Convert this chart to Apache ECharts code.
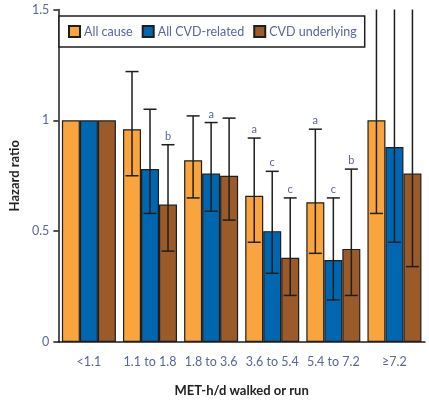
<!DOCTYPE html>
<html>
<head>
<meta charset="utf-8">
<script src="https://cdn.jsdelivr.net/npm/echarts@6/dist/echarts.min.js"></script>
<style>
  html, body { margin: 0; padding: 0; background: #fff; }
  #main { width: 429px; height: 402px; }
</style>
</head>
<body>
<div id="main"></div>
<script>
var categories = ['<1.1', '1.1 to 1.8', '1.8 to 3.6', '3.6 to 5.4', '5.4 to 7.2', '≥7.2'];

// hazard ratios
var allCause = [1, 0.96, 0.82, 0.66, 0.63, 1.0];
var allCauseLow = [null, 0.75, 0.65, 0.45, 0.40, 0.58];
var allCauseHigh = [null, 1.22, 1.02, 0.92, 0.96, 1.9];
var allCauseSig = ['', '', '', 'a', 'a', ''];

var cvdRelated = [1, 0.78, 0.76, 0.50, 0.37, 0.88];
var cvdRelatedLow = [null, 0.58, 0.59, 0.31, 0.19, 0.45];
var cvdRelatedHigh = [null, 1.05, 0.99, 0.77, 0.65, 1.9];
var cvdRelatedSig = ['', '', 'a', 'c', 'c', ''];

var cvdUnderlying = [1, 0.62, 0.75, 0.38, 0.42, 0.76];
var cvdUnderlyingLow = [null, 0.41, 0.55, 0.21, 0.21, 0.34];
var cvdUnderlyingHigh = [null, 0.89, 1.01, 0.65, 0.78, 1.9];
var cvdUnderlyingSig = ['', 'b', '', 'c', 'b', ''];

var yMax = 1.5;
var barW = 18;
var textColor = '#5a659c';
var font = 'Lato, "Open Sans", sans-serif';

// error bar + letter drawn with a custom series, offset to its bar
function errorSeries(name, low, high, sig, offset) {
  var data = [];
  for (var i = 0; i < categories.length; i++) {
    if (low[i] == null) continue;
    data.push([i, low[i], high[i], sig[i]]);
  }
  return {
    name: name,
    type: 'custom',
    z: 10,
    clip: false,
    data: data,
    renderItem: function (params, api) {
      var idx = api.value(0);
      var lo = api.coord([idx, api.value(1)]);
      var hiVal = api.value(2);
      var over = hiVal > yMax;
      var hi = api.coord([idx, over ? yMax : hiVal]);
      var x = lo[0] + offset;
      var cap = 6.5;
      var st = { stroke: '#1e1e1e', lineWidth: 1.5 };
      var children = [
        { type: 'line', shape: { x1: x, y1: lo[1], x2: x, y2: hi[1] }, style: st },
        { type: 'line', shape: { x1: x - cap, y1: lo[1], x2: x + cap, y2: lo[1] }, style: st }
      ];
      if (!over) {
        children.push({ type: 'line', shape: { x1: x - cap, y1: hi[1], x2: x + cap, y2: hi[1] }, style: st });
      }
      var letter = data[params.dataIndex][3];
      if (letter) {
        children.push({
          type: 'text',
          style: {
            x: x, y: hi[1] - 3, text: letter,
            align: 'center', verticalAlign: 'bottom',
            fill: textColor, fontSize: 11, fontFamily: font
          }
        });
      }
      return { type: 'group', children: children };
    }
  };
}

function barSeries(name, values, color) {
  return {
    name: name,
    type: 'bar',
    barWidth: barW,
    barGap: '0%',
    data: values,
    itemStyle: { color: color, borderColor: '#1e1e1e', borderWidth: 1.2 }
  };
}

var chart = echarts.init(document.getElementById('main'));
chart.setOption({
  animation: false,
  textStyle: { fontFamily: font },
  color: ['#f9a43c', '#0066b0', '#9a5a2a'],
  legend: {
    data: ['All cause', 'All CVD-related', 'CVD underlying'],
    left: 59,
    top: 16,
    padding: [9, 8, 9, 9],
    itemGap: 9,
    itemWidth: 11,
    itemHeight: 11,
    borderColor: '#1e1e1e',
    borderWidth: 1.5,
    backgroundColor: '#fff',
    icon: 'rect',
    textStyle: { color: textColor, fontSize: 12.5, fontFamily: font, padding: [0, 0, 0, -1] }
  },
  grid: { left: 50, right: 4, top: 9.5, bottom: 55 },
  xAxis: {
    type: 'category',
    data: categories,
    name: 'MET-h/d walked or run',
    nameLocation: 'middle',
    nameGap: 42,
    nameTextStyle: { color: '#222', fontWeight: 'bold', fontSize: 13 },
    axisLine: { lineStyle: { color: '#1e1e1e', width: 1.5 } },
    axisTick: { alignWithLabel: true, length: 5, lineStyle: { color: '#1e1e1e', width: 1.5 } },
    axisLabel: { color: textColor, fontSize: 12.5, margin: 13, interval: 0 }
  },
  yAxis: {
    type: 'value',
    min: 0,
    max: yMax,
    interval: 0.5,
    name: 'Hazard ratio',
    nameLocation: 'middle',
    nameGap: 36,
    nameTextStyle: { color: '#222', fontWeight: 'bold', fontSize: 13 },
    axisLine: { show: true, lineStyle: { color: '#1e1e1e', width: 1.5 } },
    axisTick: { show: true, length: 5, lineStyle: { color: '#1e1e1e', width: 1.5 } },
    axisLabel: { color: textColor, fontSize: 12.5, margin: 9 },
    splitLine: { show: false }
  },
  series: [
    barSeries('All cause', allCause, '#f9a43c'),
    barSeries('All CVD-related', cvdRelated, '#0066b0'),
    barSeries('CVD underlying', cvdUnderlying, '#9a5a2a'),
    errorSeries('err1', allCauseLow, allCauseHigh, allCauseSig, -barW),
    errorSeries('err2', cvdRelatedLow, cvdRelatedHigh, cvdRelatedSig, 0),
    errorSeries('err3', cvdUnderlyingLow, cvdUnderlyingHigh, cvdUnderlyingSig, barW)
  ]
});
</script>
</body>
</html>
